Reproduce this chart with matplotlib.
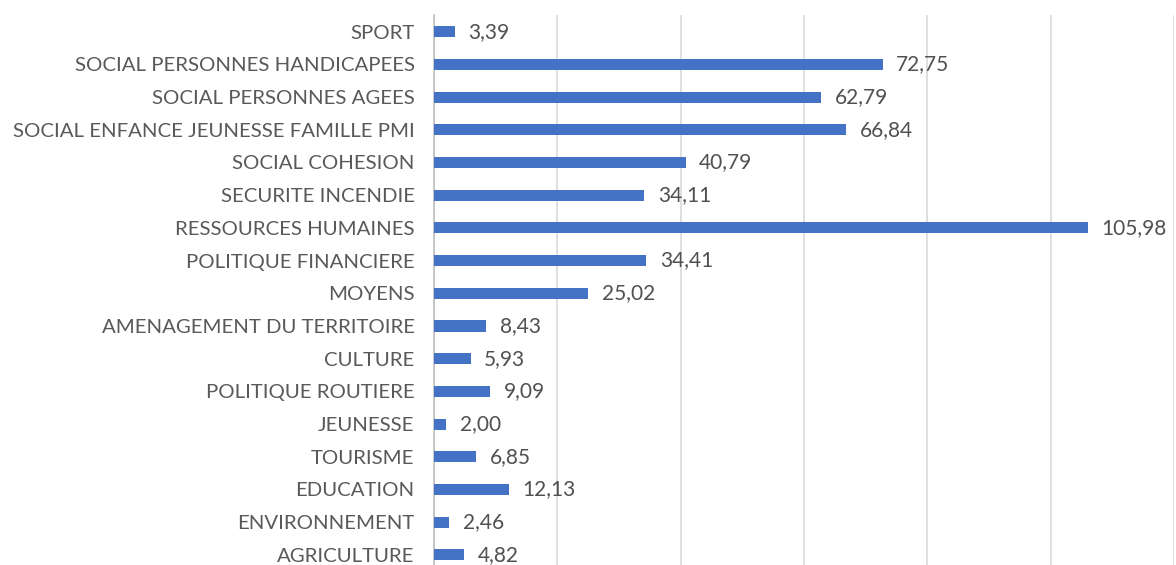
import matplotlib
matplotlib.use("Agg")
import matplotlib.pyplot as plt

# categories from bottom to top
categories = [
    "AGRICULTURE", "ENVIRONNEMENT", "EDUCATION", "TOURISME", "JEUNESSE",
    "POLITIQUE ROUTIERE", "CULTURE", "AMENAGEMENT DU TERRITOIRE", "MOYENS",
    "POLITIQUE FINANCIERE", "RESSOURCES HUMAINES", "SECURITE INCENDIE",
    "SOCIAL COHESION", "SOCIAL ENFANCE JEUNESSE FAMILLE PMI",
    "SOCIAL PERSONNES AGEES", "SOCIAL PERSONNES HANDICAPEES", "SPORT",
]
values = [4.82, 2.46, 12.13, 6.85, 2.00, 9.09, 5.93, 8.43, 25.02,
          34.41, 105.98, 34.11, 40.79, 66.84, 62.79, 72.75, 3.39]

bar_color = "#4472C4"
text_color = "#595959"

fig = plt.figure(figsize=(11.76, 5.65), dpi=100)
ax = fig.add_axes([434 / 1176, 0, 740 / 1176, 1 - 15 / 565])

pos = list(range(len(categories)))
ax.barh(pos, values, height=0.34, color=bar_color, zorder=3)

for y, v in zip(pos, values):
    ax.text(v + 2.2, y, f"{v:.2f}".replace(".", ","), va="center", ha="left",
            fontsize=15, color="#505050", family="Lato", clip_on=False)

ax.set_xlim(0, 120)
ax.set_ylim(-0.31, 16.51)
ax.set_xticks(range(0, 121, 20))
ax.xaxis.grid(True, color="#d9d9d9", linewidth=1.2, zorder=0)
ax.set_yticks(pos)
ax.set_yticklabels(categories, fontsize=14.7, color=text_color, family="Lato")
ax.tick_params(axis="y", length=0, pad=14)
ax.tick_params(axis="x", length=0, labelbottom=False)
for s in ["top", "right", "bottom"]:
    ax.spines[s].set_visible(False)
ax.spines["left"].set_color("#bfbfbf")
ax.spines["left"].set_linewidth(1.2)

fig.savefig("out.png", dpi=100)
